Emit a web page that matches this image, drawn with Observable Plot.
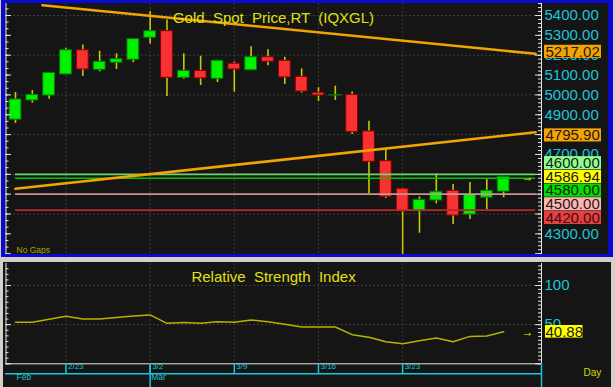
<!DOCTYPE html>
<html><head><meta charset="utf-8">
<script src="https://cdn.jsdelivr.net/npm/d3@7"></script>
<script src="https://cdn.jsdelivr.net/npm/@observablehq/plot@0.6"></script>
<style>
body{margin:0;background:#d4d0c8;}
#wrap{position:relative;width:615px;height:387px;overflow:hidden;background:#d4d0c8;font-family:"Liberation Sans",Arial,sans-serif;}
.abs{position:absolute;}
svg text{white-space:pre;}
</style></head><body>
<div id="wrap">
 <div class="abs" style="left:1px;top:0;width:612px;height:257px;background:#151515"></div>
 <div class="abs" style="left:3px;top:262px;width:608px;height:125px;background:#151515"></div>
 <div id="p1" class="abs" style="left:0;top:0"></div>
 <div id="p2" class="abs" style="left:0;top:259px"></div>
 <div class="abs" style="left:1px;top:0;width:612px;height:257px;box-sizing:border-box;border-style:solid;border-color:#0a0ad0;border-width:3px 5px 3px 4px;pointer-events:none"></div>
</div>
<script>
// ---------------- data ----------------
const dates = ["2/18","2/19","2/20","2/23","2/24","2/25","2/26","2/27","3/2","3/3","3/4","3/5","3/6","3/9","3/10","3/11","3/12","3/13","3/16","3/17","3/18","3/19","3/20","3/23","3/24","3/25","3/26","3/27","3/30","3/31"];
const open  = [4875,4972,4997,5103,5225,5126,5162,5177,5288,5321,5086,5121,5081,5157,5124,5190,5172,5091,5011,4997,5000,4816,4666,4527,4414,4468,4517,4397,4482,4513];
const high  = [5012,5022,5113,5235,5252,5220,5207,5283,5420,5378,5207,5195,5174,5165,5242,5227,5190,5131,5036,5044,5014,4867,4728,4530,4486,4602,4549,4559,4577,4590];
const low   = [4856,4958,4978,5103,5093,5116,5128,5162,5257,4992,5079,5047,5062,5014,5124,5147,5052,5009,4967,4972,4800,4502,4478,4180,4303,4451,4347,4372,4421,4482];
const close = [4977,5000,5111,5225,5128,5167,5180,5281,5321,5086,5121,5083,5172,5128,5190,5167,5088,5017,4997,4999,4812,4663,4487,4413,4471,4512,4392,4498,4517,4586.94];
const rsi   = [53,53,57,60.6,57.3,57.3,59,61,62.4,51.7,52.6,51.7,53.8,53,56,53.8,50.4,47,47,47,37.2,33.8,28.2,25.6,29.5,32.9,28.2,35,35.5,40.88];

const weekLabels = ["2/23","3/2","3/9","3/16","3/23"];
const monthLabels = ["Feb","Mar"];
const monthFirstDates = ["2/18","3/2"];
const priceTicks = [4300,4400,4500,4600,4700,4800,4900,5000,5100,5200,5300,5400];
const priceGrid = [4400,4600,4800,5000,5200,5400];
const rsiTicks = [50,100];

const levelValues = [4600, 4580, 4500, 4420];
const upperTrendIdx = [1.6, 30.9], upperTrendVal = [5452, 5207];
const lowerTrendIdx = [0, 30.9],   lowerTrendVal = [4527, 4812];
const levelEndIdx = 30.9;
const labelValues = [5217.02, 4795.90, 4600.00, 4586.94, 4580.00, 4500.00, 4420.00];
const lastPrice = 4586.94;
const lastRsi = 40.88;

// ---------------- styles ----------------
const levelColors = ["#6fd46f", "#00c400", "#c89494", "#b82828"];
const labelFills = ["#f5a300", "#f5a300", "#8cff8c", "#ffff00", "#00e000", "#ffb4b4", "#f03c3c"];
const CYAN = "#1cc6d8", YEL = "#e0e010", WHITE = "#e6e6e6";
const grid = {stroke: "#3c3c3c", strokeDasharray: "2,2", strokeWidth: 1};
const FONT = '"Liberation Sans", Arial, sans-serif';

// ---------------- geometry ----------------
const W = 615, mL = 5, mR = 74;
const H1 = 258, mT1 = 3, mB1 = 3;
const H2 = 128, mT2 = 4, mB2 = 23.7;
const xDom = [-0.594, 31.25];
const yDom1 = [4190.9, 5460.5];
const yDom2 = [0, 128.1];
const fw = W - mL - mR;
const fh2 = H2 - mT2 - mB2;
const xs = d3.scaleLinear(xDom, [mL, W - mR]);
const ys1 = d3.scaleLinear(yDom1, [H1 - mB1, mT1]);
const ys2 = d3.scaleLinear(yDom2, [H2 - mB2, mT2]);

const candles = dates.map((d, i) => ({i, o: open[i], h: high[i], l: low[i], c: close[i]}));
const weekIdx = weekLabels.map(w => dates.indexOf(w));
const monthIdx = monthFirstDates.map(m => dates.indexOf(m));
const upperTrend = upperTrendIdx.map((i, k) => ({i, p: upperTrendVal[k]}));
const lowerTrend = lowerTrendIdx.map((i, k) => ({i, p: lowerTrendVal[k]}));
const levels = levelValues.map((v, k) => ({v, k}));
const rsiData = rsi.map((v, i) => ({i, v}));

// label stacking around the last-price label
const boxH = 13.7;
const labs = labelValues.map((v, k) => ({v, k, py: ys1(v)})).sort((a, b) => b.v - a.v);
const ai = labs.findIndex(d => d.v === lastPrice);
for (let j = ai - 1; j >= 0; j--) labs[j].py = Math.min(labs[j].py, labs[j + 1].py - boxH);
for (let j = ai + 1; j < labs.length; j++) labs[j].py = Math.max(labs[j].py, labs[j - 1].py + boxH);
const bx1 = xs.invert(W - mR + 3), bx2 = xs.invert(W - mR + 60);
// tick labels fully hidden behind the label boxes are not drawn
const inBox = py => labs.some(b => py >= b.py - boxH / 2 && py <= b.py + boxH / 2);
const shownTicks = priceTicks.filter(t => !(inBox(ys1(t) - 5) && inBox(ys1(t) + 5)));

const leftMinor1 = d3.range(Math.ceil(yDom1[0] / (100 / 3)), Math.floor(yDom1[1] / (100 / 3)) + 1).map(k => k * 100 / 3);
const rightMinor1 = d3.range(4200, 5461, 20);
const rightMajor1 = d3.range(4200, 5461, 100);

const p1 = Plot.plot({
  width: W, height: H1, marginLeft: mL, marginRight: mR, marginTop: mT1, marginBottom: mB1,
  x: {domain: xDom, axis: null}, y: {domain: yDom1, axis: null},
  color: {type: "identity"},
  style: {background: "transparent", fontFamily: FONT, overflow: "visible"},
  marks: [
    Plot.ruleX(weekIdx, {x: d => d, ...grid}),
    Plot.ruleY(priceGrid, {y: d => d, ...grid}),
    Plot.ruleX(candles, {x: "i", y1: "l", y2: "h", stroke: "#c8c800", strokeWidth: 1.6, clip: true}),
    Plot.rect(candles, {x1: d => d.i - 0.35, x2: d => d.i + 0.35, y1: d => Math.min(d.o, d.c), y2: d => Math.max(d.o, d.c),
      fill: d => d.c >= d.o ? "#00f000" : "#f83232", stroke: d => d.c >= d.o ? "#007a00" : "#8a0000", strokeWidth: 1, clip: true}),
    Plot.ruleY(levels, {y: "v", x1: 0, x2: levelEndIdx, stroke: d => levelColors[d.k], strokeWidth: 1.7}),
    Plot.line(upperTrend, {x: "i", y: "p", stroke: "#f2a400", strokeWidth: 2.6, clip: true}),
    Plot.line(lowerTrend, {x: "i", y: "p", stroke: "#f2a400", strokeWidth: 2.6, clip: true}),
    Plot.text([lastPrice], {y: d => d, text: () => "→", frameAnchor: "right", dx: -8, fill: "#f0f000", fontSize: 12, fontWeight: "bold"}),
    Plot.ruleX([xDom[0]], {x: d => d, stroke: WHITE, dx: 0.5}),
    Plot.ruleX([xDom[1]], {x: d => d, stroke: WHITE}),
    Plot.tickY(rightMinor1, {y: d => d, insetLeft: fw - 3, stroke: WHITE}),
    Plot.tickY(rightMajor1, {y: d => d, insetLeft: fw - 6, stroke: WHITE}),
    Plot.tickY(leftMinor1, {y: d => d, insetLeft: 0.5, insetRight: fw - 3.5, stroke: WHITE}),
    Plot.tickY(rightMajor1, {y: d => d, insetLeft: 0.5, insetRight: fw - 6, stroke: WHITE}),
    Plot.text(shownTicks, {y: d => d, text: d => d.toFixed(2), frameAnchor: "right", textAnchor: "start", dx: 3, fill: CYAN, fontSize: 15}),
    Plot.rect(labs, {x1: () => bx1, x2: () => bx2, y1: d => ys1.invert(d.py + boxH / 2 - 0.3), y2: d => ys1.invert(d.py - boxH / 2 + 0.3), fill: d => labelFills[d.k]}),
    Plot.text(labs, {y: d => ys1.invert(d.py), text: d => d.v.toFixed(2), frameAnchor: "right", textAnchor: "start", dx: 4, fill: "#1a1a1a", fontSize: 15}),
    Plot.text(["Gold  Spot  Price,RT  (IQXGL)"], {text: d => d, frameAnchor: "top", dy: 9, fill: YEL, fontSize: 15}),
    Plot.text(["No Gaps"], {text: d => d, frameAnchor: "bottom-left", textAnchor: "start", dx: 11, dy: -3, fill: "#a8a800", fontSize: 8.5})
  ]
});
document.getElementById("p1").appendChild(p1);

// ---------------- RSI panel ----------------
const leftMinor2 = d3.range(0, yDom2[1], 100 / 14);
const rightMinor2 = d3.range(0, yDom2[1], 5);
const major2 = [0, 50, 100];
const ry = ys2(lastRsi);
const rb1 = xs.invert(W - mR + 4), rb2 = xs.invert(W - mR + 41.5);

const p2 = Plot.plot({
  width: W, height: H2, marginLeft: mL, marginRight: mR, marginTop: mT2, marginBottom: mB2,
  x: {domain: xDom, axis: null}, y: {domain: yDom2, axis: null},
  color: {type: "identity"},
  style: {background: "transparent", fontFamily: FONT, overflow: "visible"},
  marks: [
    Plot.ruleX(weekIdx, {x: d => d, ...grid}),
    Plot.ruleY(rsiTicks, {y: d => d, ...grid}),
    Plot.line(rsiData, {x: "i", y: "v", stroke: "#b4b400", strokeWidth: 1.5}),
    Plot.ruleY([0], {y: d => d, stroke: WHITE}),
    Plot.ruleX([xDom[0]], {x: d => d, stroke: WHITE, dx: 0.5}),
    Plot.ruleX([xDom[1]], {x: d => d, stroke: WHITE}),
    Plot.tickY(rightMinor2, {y: d => d, insetLeft: fw - 3, stroke: WHITE}),
    Plot.tickY(major2, {y: d => d, insetLeft: fw - 6, stroke: WHITE}),
    Plot.tickY(leftMinor2, {y: d => d, insetLeft: 0.5, insetRight: fw - 3.5, stroke: WHITE}),
    Plot.tickY(major2, {y: d => d, insetLeft: 0.5, insetRight: fw - 6, stroke: WHITE}),
    Plot.text(rsiTicks, {y: d => d, text: d => String(d), frameAnchor: "right", textAnchor: "start", dx: 3, fill: CYAN, fontSize: 15}),
    Plot.rect([lastRsi], {x1: () => rb1, x2: () => rb2, y1: () => ys2.invert(ry + 6.3), y2: () => ys2.invert(ry - 6.3), fill: "#ffff00"}),
    Plot.text([lastRsi], {y: d => d, text: d => d.toFixed(2), frameAnchor: "right", textAnchor: "start", dx: 4, fill: "#1a1a1a", fontSize: 15}),
    Plot.text([lastRsi], {y: d => d, text: () => "→", frameAnchor: "right", dx: -8, fill: "#f0f000", fontSize: 12, fontWeight: "bold"}),
    Plot.text(["Relative  Strength  Index"], {text: d => d, frameAnchor: "top", dy: 8, fill: YEL, fontSize: 15}),
    Plot.tickY([0], {y: d => d, dy: 10, stroke: CYAN, strokeWidth: 1.5}),
    Plot.tickX(weekIdx, {x: d => d, insetTop: fh2, insetBottom: -10, stroke: CYAN, strokeWidth: 1.5}),
    Plot.tickX(monthIdx.slice(1), {x: d => d, insetTop: fh2, insetBottom: -24, stroke: CYAN, strokeWidth: 1.5}),
    Plot.tickX([xDom[1]], {x: d => d, insetTop: fh2, insetBottom: -24, stroke: CYAN, strokeWidth: 1.5}),
    Plot.text(weekIdx, {x: d => d, text: (d, k) => weekLabels[k], frameAnchor: "bottom", dy: 5.5, dx: 2, textAnchor: "start", fill: CYAN, fontSize: 8}),
    Plot.text(monthIdx, {x: d => d, text: (d, k) => monthLabels[k], frameAnchor: "bottom", dy: 16.5, dx: 1, textAnchor: "start", fill: CYAN, fontSize: 8.5}),
    Plot.text(["Day"], {text: d => d, frameAnchor: "bottom-right", textAnchor: "start", dx: 42, dy: 12, fill: "#d8d800", fontSize: 10})
  ]
});
document.getElementById("p2").appendChild(p2);
</script>
</body></html>
